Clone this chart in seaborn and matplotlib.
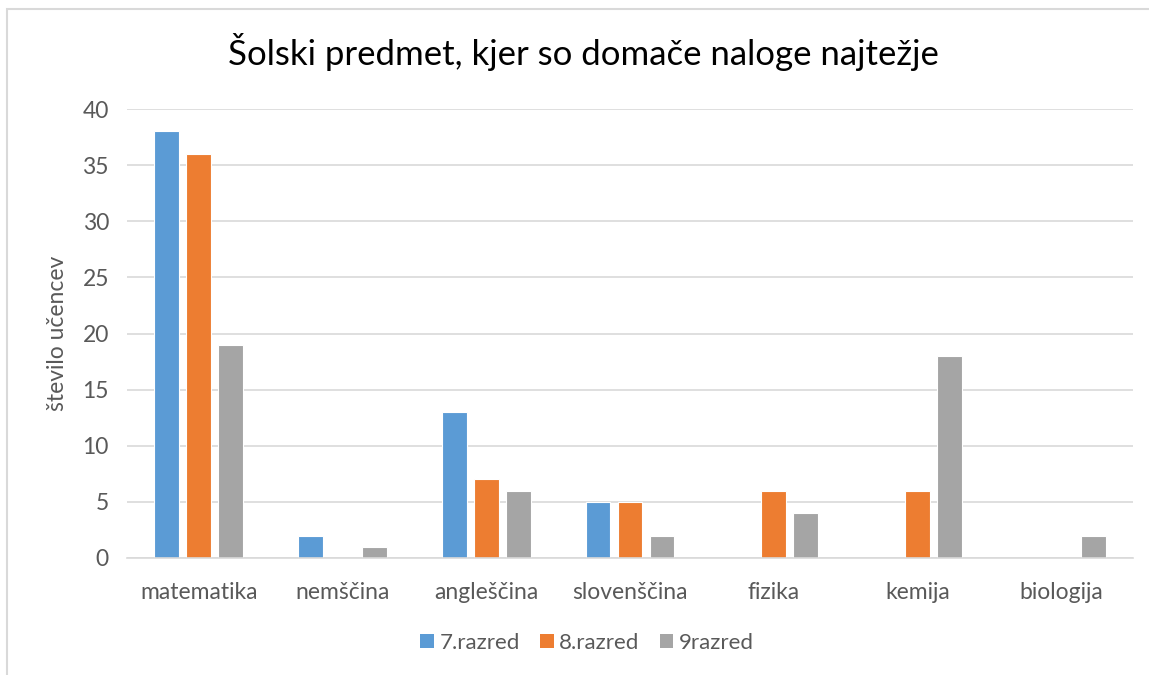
import pandas as pd
import numpy as np
import seaborn as sns
import matplotlib.pyplot as plt
from matplotlib.patches import Patch, Rectangle

predmeti = ['matematika', 'nemščina', 'angleščina', 'slovenščina', 'fizika', 'kemija', 'biologija']
razred7 = [38, 2, 13, 5, 0, 0, 0]
razred8 = [36, 0, 7, 5, 6, 6, 0]
razred9 = [19, 1, 6, 2, 4, 18, 2]
serije = ['7.razred', '8.razred', '9razred']
barve = ['#5B9BD5', '#ED7D31', '#A5A5A5']

df = pd.DataFrame({'predmet': predmeti * 3,
                   'razred': np.repeat(serije, len(predmeti)),
                   'ucenci': razred7 + razred8 + razred9})

sns.set_style('white')
plt.rcParams['font.family'] = ['Lato', 'DejaVu Sans']
txt = '#595959'

fig = plt.figure(figsize=(11.49, 6.75), dpi=100)
ax = fig.add_axes([127/1149, 1-558/675, (1133-127)/1149, (558-109)/675])

sns.barplot(data=df, x='predmet', y='ucenci', hue='razred', palette=barve,
            saturation=1, width=0.668, gap=0.22, edgecolor='white', linewidth=0.8,
            legend=False, ax=ax)

ax.set_ylim(0, 40)
ax.set_yticks(range(0, 41, 5))
ax.set_xlim(-0.5, len(predmeti) - 0.5)
ax.yaxis.grid(True, color='#D9D9D9', linewidth=1.2)
ax.set_axisbelow(True)
for s in ['top', 'right', 'left']:
    ax.spines[s].set_visible(False)
ax.spines['bottom'].set_color('#D9D9D9')
ax.spines['bottom'].set_linewidth(1.2)
ax.tick_params(axis='both', length=0, labelsize=16.5, labelcolor=txt)
ax.tick_params(axis='y', pad=13)
ax.tick_params(axis='x', pad=17)
ax.set_xlabel('')
ax.set_ylabel('število učencev', fontsize=16.5, color=txt, va='center')
ax.yaxis.set_label_coords(-(127 - 58) / 1006, 0.5)

fig.text(583/1149, 1-52/675, 'Šolski predmet, kjer so domače naloge najtežje',
         ha='center', va='center', fontsize=25, color='black')

handles = [Patch(facecolor=c, edgecolor='none') for c in barve]
fig.legend(handles, serije, loc='center', bbox_to_anchor=(587/1149, 1-643/675),
           ncol=3, frameon=False, fontsize=16, labelcolor=txt,
           handlelength=0.62, handleheight=0.62, handletextpad=0.25, columnspacing=0.9)

fig.add_artist(Rectangle((7/1149, -0.05), 1.1, 1-9/675+0.05, transform=fig.transFigure,
                         fill=False, edgecolor='#D9D9D9', linewidth=1.5))

fig.savefig('out.png', dpi=100)
